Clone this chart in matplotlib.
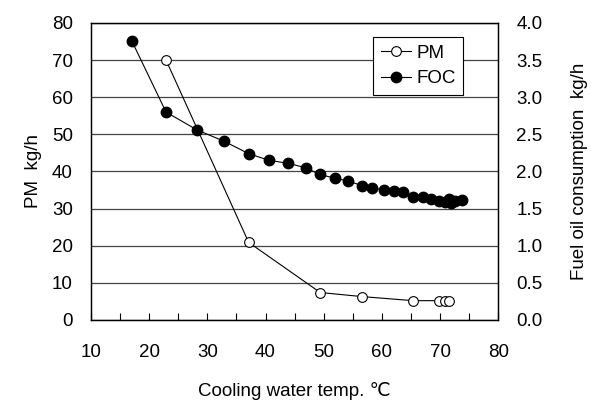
import matplotlib.pyplot as plt
import numpy as np

plt.rcParams['font.family'] = ['Liberation Sans', 'DejaVu Sans']

# PM (left axis, kg/h)
pm_temp = [22.9, 37.1, 49.4, 56.6, 65.4, 69.9, 70.9, 71.6]
pm_vals = [70.0, 20.9, 7.4, 6.3, 5.2, 5.2, 5.0, 5.1]

# Fuel oil consumption (right axis, kg/h)
foc_temp = [17.0, 22.9, 28.2, 32.8, 37.1, 40.6, 43.9, 46.9, 49.3, 51.9, 54.2,
            56.6, 58.3, 60.3, 62.0, 63.7, 65.4, 67.0, 68.5, 69.9, 70.8, 71.5,
            71.8, 72.6, 73.8]
foc_vals = [3.76, 2.80, 2.56, 2.41, 2.24, 2.15, 2.11, 2.05, 1.96, 1.91, 1.87,
            1.81, 1.78, 1.75, 1.74, 1.73, 1.66, 1.66, 1.63, 1.60, 1.59, 1.63,
            1.58, 1.60, 1.62]

fs = 13.5

fig = plt.figure(figsize=(5.91, 4.03), dpi=100)
ax = fig.add_axes([0.154, 0.206, 0.689, 0.737])
ax2 = ax.twinx()

ax.set_xlim(10, 80)
ax.set_ylim(0, 80)
ax2.set_ylim(0, 4.0)

ax.set_yticks(np.arange(0, 81, 10))
ax2.set_yticks(np.arange(0, 4.01, 0.5))
ax2.set_yticklabels([f'{v:.1f}' for v in np.arange(0, 4.01, 0.5)])
ax.set_xticks(np.arange(10, 81, 5))
ax.set_xticklabels([str(v) if v % 10 == 0 else '' for v in range(10, 81, 5)])

ax.grid(True, axis='y', color='#444444', linewidth=0.9)
ax.set_axisbelow(True)

ax.tick_params(axis='x', direction='in', length=5, width=0.8, pad=17, labelsize=fs)
ax.tick_params(axis='y', direction='in', length=0, pad=13, labelsize=fs)
ax2.tick_params(axis='y', direction='in', length=0, pad=13, labelsize=fs)
for a in (ax, ax2):
    for s in a.spines.values():
        s.set_linewidth(0.9)

ax.set_ylabel('PM  kg/h', fontsize=fs)
ax.yaxis.set_label_coords(-0.12, 0.5)
ax2.set_ylabel('Fuel oil consumption  kg/h', fontsize=fs)
ax2.yaxis.set_label_coords(1.178, 0.5)
ax.set_xlabel('Cooling water temp. ℃', fontsize=fs)
ax.xaxis.set_label_coords(0.5, -0.21)

l1, = ax2.plot(np.array(pm_temp), np.array(pm_vals) / 20.0, color='black',
               linewidth=0.8, marker='o', markersize=7, markerfacecolor='white',
               markeredgecolor='black', markeredgewidth=0.8, label='PM', zorder=3)
l2, = ax2.plot(foc_temp, foc_vals, color='black', linewidth=0.8, marker='o',
               markersize=7.5, markerfacecolor='black', markeredgecolor='black',
               label='FOC', zorder=2)

leg = ax2.legend(handles=[l1, l2], loc='upper right', bbox_to_anchor=(0.914, 0.953),
                 borderaxespad=0, fontsize=fs, frameon=True, fancybox=False,
                 framealpha=1, edgecolor='black', handlelength=1.6,
                 handletextpad=0.3, borderpad=0.4, labelspacing=0.45)
leg.get_frame().set_linewidth(0.8)

fig.savefig('out.png', dpi=100)
